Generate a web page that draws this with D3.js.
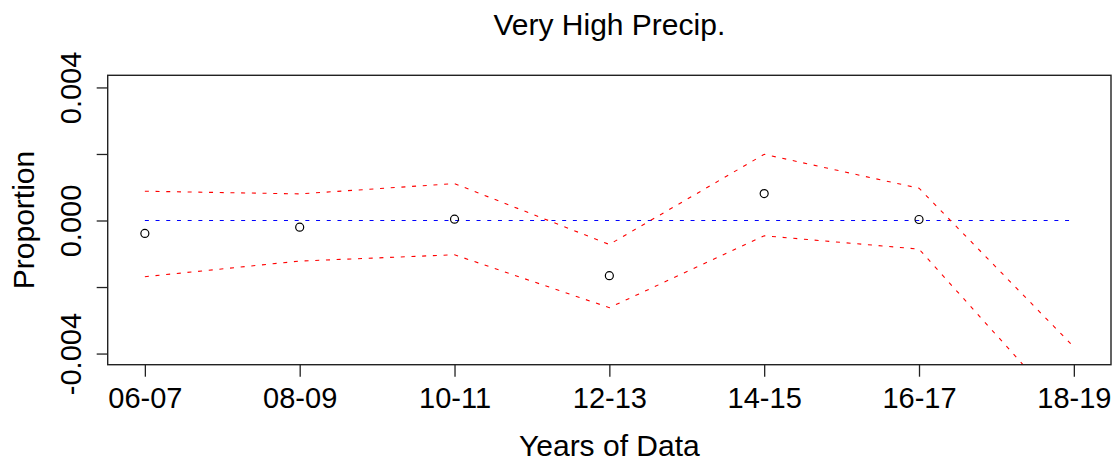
<!DOCTYPE html>
<html>
<head>
<meta charset="utf-8">
<script src="https://cdn.jsdelivr.net/npm/d3@7"></script>
<style>
  html, body { margin: 0; padding: 0; background: #fff; }
  svg { display: block; font-family: "Liberation Sans", Arial, sans-serif; }
</style>
</head>
<body>
<svg id="chart" width="1119" height="465"></svg>
<script>
// ---- data ----
const categories = ["06-07", "08-09", "10-11", "12-13", "14-15", "16-17", "18-19"];
const proportion = [-0.00039, -0.00020, 0.00004, -0.00166, 0.00081, 0.00003, -0.00490];
const upperBound = [0.00088, 0.00080, 0.00111, -0.00072, 0.00199, 0.00097, -0.00380];
const lowerBound = [-0.00169, -0.00122, -0.00103, -0.00262, -0.00046, -0.00086, -0.00603];
const referenceLine = [0, 0, 0, 0, 0, 0, 0];
const yTickValues = [-0.004, -0.002, 0, 0.002, 0.004];
const yTickLabels = ["-0.004", "", "0.000", "", "0.004"];
const titleText = "Very High Precip.";
const xLabelText = "Years of Data";
const yLabelText = "Proportion";

(function () {
// ---- layout ----
const pLeft = 107.7, pRight = 1111, pTop = 75.3, pBottom = 364.7;
const svg = d3.select("#chart");

const x = d3.scalePoint().domain(categories).range([pLeft, pRight]).padding(0.24);
const y = d3.scaleLinear().domain([-0.004335, 0.004365]).range([pBottom, pTop]);

svg.append("defs").append("clipPath").attr("id", "plotclip")
  .append("rect").attr("x", pLeft).attr("y", pTop)
  .attr("width", pRight - pLeft).attr("height", pBottom - pTop);

const plot = svg.append("g").attr("clip-path", "url(#plotclip)");

const line = d3.line().x((d, i) => x(categories[i])).y(d => y(d));

plot.append("path").datum(referenceLine)
  .attr("d", line).attr("fill", "none")
  .attr("stroke", "#0000ff").attr("stroke-width", 1.1)
  .attr("stroke-dasharray", "4,6.7");

[upperBound, lowerBound].forEach(s => {
  plot.append("path").datum(s)
    .attr("d", line).attr("fill", "none")
    .attr("stroke", "#ff0000").attr("stroke-width", 1.1)
    .attr("stroke-dasharray", "4,6.7");
});

plot.selectAll("circle.pt").data(proportion).enter().append("circle")
  .attr("class", "pt")
  .attr("cx", (d, i) => x(categories[i]))
  .attr("cy", d => y(d))
  .attr("r", 4)
  .attr("fill", "none")
  .attr("stroke", "#000")
  .attr("stroke-width", 1.2);

// box
svg.append("rect")
  .attr("x", pLeft).attr("y", pTop)
  .attr("width", pRight - pLeft).attr("height", pBottom - pTop)
  .attr("fill", "none").attr("stroke", "#222").attr("stroke-width", 1.4);

// x axis
const xAxis = svg.append("g")
  .attr("transform", `translate(0,${pBottom})`)
  .call(d3.axisBottom(x).tickSize(12).tickSizeOuter(0));
xAxis.select(".domain").remove();
xAxis.selectAll(".tick line").attr("stroke", "#222").attr("stroke-width", 1.3);
xAxis.selectAll(".tick text")
  .attr("y", 43.6).attr("dy", 0)
  .attr("fill", "#000")
  .style("font-size", "29px")
  .style("font-family", "'Liberation Sans', Arial, sans-serif");

// y axis
const yAxis = svg.append("g")
  .attr("transform", `translate(${pLeft},0)`)
  .call(d3.axisLeft(y).tickValues(yTickValues).tickSize(11).tickSizeOuter(0)
    .tickFormat((d, i) => yTickLabels[i]));
yAxis.select(".domain").remove();
yAxis.selectAll(".tick line").attr("stroke", "#222").attr("stroke-width", 1.3);
yAxis.selectAll(".tick text")
  .attr("x", null).attr("dy", null)
  .attr("transform", "translate(-26.7,0) rotate(-90)")
  .attr("text-anchor", "middle")
  .attr("fill", "#000")
  .style("font-size", "29px")
  .style("font-family", "'Liberation Sans', Arial, sans-serif");

// titles
const cx = (pLeft + pRight) / 2;
svg.append("text").attr("x", cx).attr("y", 35)
  .attr("text-anchor", "middle").style("font-size", "30px")
  .text(titleText);
svg.append("text").attr("x", cx).attr("y", 456)
  .attr("text-anchor", "middle").style("font-size", "30px")
  .text(xLabelText);
svg.append("text")
  .attr("transform", `translate(33.5,${(pTop + pBottom) / 2}) rotate(-90)`)
  .attr("text-anchor", "middle").style("font-size", "30px")
  .text(yLabelText);
})();
</script>
</body>
</html>
